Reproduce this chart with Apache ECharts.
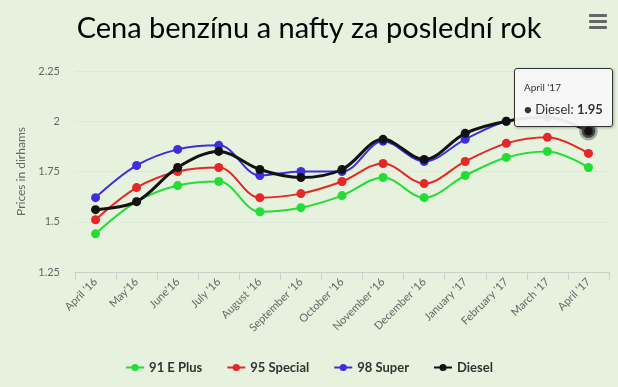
<!DOCTYPE html>
<html><head><meta charset="utf-8">
<script src="https://cdn.jsdelivr.net/npm/echarts@6/dist/echarts.min.js"></script>
<style>html,body{margin:0;padding:0;background:#e7f2de}#c{width:618px;height:387px}</style>
</head><body><div id="c"></div>
<script>
const categories = ["April '16","May'16","June'16","July '16","August '16","September '16","October '16","November '16","December '16","January '17","February '17","March '17","April '17"];
const plus91 = [1.44,1.60,1.68,1.70,1.55,1.57,1.63,1.72,1.62,1.73,1.82,1.85,1.77];
const special95 = [1.51,1.67,1.75,1.77,1.62,1.64,1.70,1.79,1.69,1.80,1.89,1.92,1.84];
const super98 = [1.62,1.78,1.86,1.88,1.73,1.75,1.75,1.90,1.80,1.91,2.00,2.02,1.95];
const diesel = [1.56,1.60,1.77,1.85,1.76,1.72,1.76,1.91,1.81,1.94,2.00,2.02,1.95];
const yTicks = [1.25,1.5,1.75,2,2.25];

const chart = echarts.init(document.getElementById('c'));
function mk(name, data, color, width){
  return {name, type:'line', data, smooth:0.35, symbol:'circle', symbolSize:9,
    lineStyle:{width:width, color}, itemStyle:{color}, z: name==='Diesel'?5:3,
    emphasis:{scale:1.5, itemStyle:{borderColor:'rgba(110,110,110,0.55)', borderWidth:5}}};
}
chart.setOption({
  backgroundColor:'#e7f2de',
  animation:false,
  title:{text:'Cena benzínu a nafty za poslední rok', left:'center', top:9,
    textStyle:{fontFamily:'Lato', fontSize:29, fontWeight:'normal', color:'#000'}},
  grid:{left:75, right:9, top:71, bottom:115},
  tooltip:{trigger:'item', alwaysShowContent:true, backgroundColor:'rgba(247,247,247,0.95)',
    borderColor:'#333', borderWidth:1, padding:[6,9], extraCssText:'border-radius:3px;box-shadow:1px 1px 3px rgba(0,0,0,0.3);',
    position:function(p){return [p[0]-74, p[1]-63];},
    formatter:function(p){return '<span style="font-size:10px;color:#333">'+p.name+'</span><br/><span style="font-size:13px;color:#333">\u25CF '+p.seriesName+': <b>'+p.value.toFixed(2)+'</b></span>';},
    textStyle:{fontFamily:'Lato'}},
  legend:{bottom:8, left:'center', itemWidth:18, itemHeight:9, itemGap:24,
    textStyle:{fontFamily:'Lato', fontSize:13, fontWeight:'bold', color:'#333'},
    data:['91 E Plus','95 Special','98 Super','Diesel']},
  xAxis:{type:'category', data:categories, boundaryGap:true,
    axisLine:{lineStyle:{color:'#c8d2c8'}}, axisTick:{show:true, length:8, lineStyle:{color:'#c8d2c8'}},
    axisLabel:{rotate:45, fontFamily:'Lato', fontSize:11, color:'#666', interval:0, margin:8}},
  yAxis:{type:'value', min:1.25, max:2.25, interval:0.25, name:'Prices in dirhams', nameLocation:'middle', nameGap:44,
    nameTextStyle:{fontFamily:'Lato', fontSize:12, color:'#666'},
    axisLabel:{fontFamily:'Lato', fontSize:11, color:'#666', margin:15, formatter:function(v){return yTicks.indexOf(v)>=0? String(v):'';}},
    splitLine:{lineStyle:{color:'#dfe9d7'}}},
  graphic:[{type:'group', right:8, top:10, children:[
    {type:'rect', shape:{x:0,y:0,width:24,height:22,r:2}, style:{fill:'#e7f2de'}},
    {type:'rect', shape:{x:3,y:4,width:18,height:3,r:1}, style:{fill:'#666'}},
    {type:'rect', shape:{x:3,y:10,width:18,height:3,r:1}, style:{fill:'#666'}},
    {type:'rect', shape:{x:3,y:16,width:18,height:3,r:1}, style:{fill:'#666'}}]}],
  series:[
    mk('91 E Plus', plus91, '#22dd33', 2),
    mk('95 Special', special95, '#e62727', 2),
    mk('98 Super', super98, '#3d2fe0', 2),
    mk('Diesel', diesel, '#111111', 3)
  ]
});
setTimeout(function(){
  chart.dispatchAction({type:'highlight', seriesIndex:3, dataIndex:12});
  chart.dispatchAction({type:'showTip', seriesIndex:3, dataIndex:12});
}, 50);
</script></body></html>
